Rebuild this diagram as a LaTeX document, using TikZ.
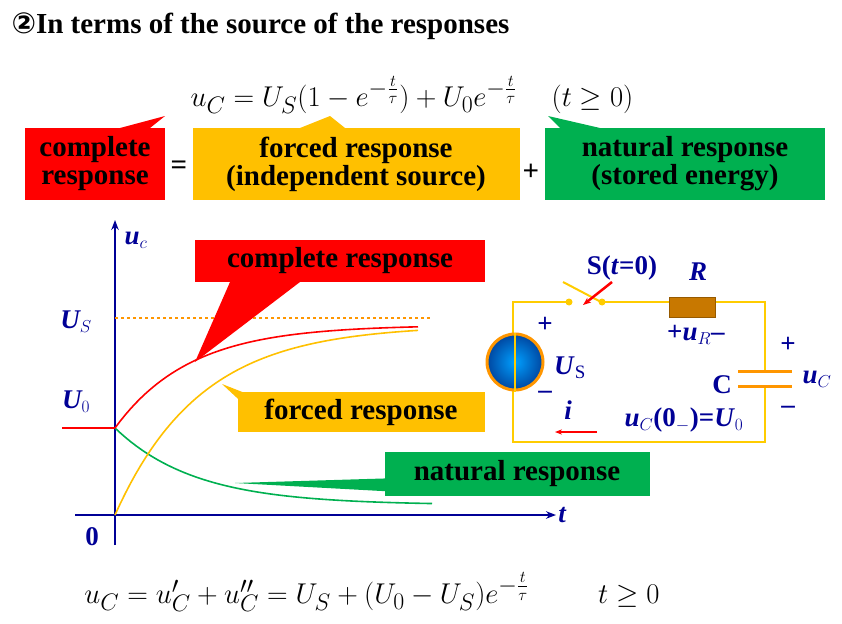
\documentclass[tikz,border=0pt]{standalone}
\usepackage{fontspec}
\setmainfont{Liberation Serif}
\newfontfamily\symfont{DejaVu Sans}
\usetikzlibrary{positioning,arrows.meta}
\definecolor{cRed}{RGB}{255,0,0}
\definecolor{cYel}{RGB}{255,192,0}
\definecolor{cGrn}{RGB}{0,176,80}
\definecolor{cBlue}{RGB}{0,0,150}
\definecolor{cWire}{RGB}{255,204,0}
\definecolor{cOra}{RGB}{255,150,0}
\tikzset{
  lbl/.style={font=\fontsize{29}{28}\selectfont\bfseries, align=center, inner sep=0pt},
  ckt/.style={font=\fontsize{27}{27}\selectfont\bfseries, text=cBlue, inner sep=0pt},
  ckti/.style={ckt, font=\fontsize{27}{27}\selectfont\bfseries\itshape},
  frm/.style={font=\fontsize{30}{30}\selectfont, inner sep=0pt, scale=1.15},
  wire/.style={cWire, line width=2pt},
  axis/.style={cBlue, line width=1.6pt, -{Stealth[length=10pt]}}
}
\begin{document}
\begin{tikzpicture}[x=1pt,y=-1pt]
        \useasboundingbox (0,0) rectangle (842,623);

        % title and formulas
        \node[anchor=west, font=\fontsize{29}{29}\selectfont\bfseries] (title) at (8,26) {{\symfont\bfseries ②}In terms of the source of the responses};
        \node[frm] (ftop) at (412,95) {$u_C=U_S(1-e^{-\frac{t}{\tau}})+U_0e^{-\frac{t}{\tau}}\quad(t\geq 0)$};
        \node[frm] (fbot) at (372,592) {$u_C=u_C'+u_C''=U_S+(U_0-U_S)e^{-\frac{t}{\tau}}\qquad t\geq 0$};

        % top boxes with callouts
        \fill[cRed] (120,128) -- (165,116) -- (150,128) -- cycle;
        \fill[cYel] (300,128) -- (330,116) -- (345,128) -- cycle;
        \fill[cGrn] (560,128) -- (548,116) -- (600,128) -- cycle;
        \node[lbl, fill=cRed, minimum width=140, minimum height=72] (cmp) at (95,164) {complete\\response};
        \node[lbl, fill=cYel, minimum width=327, minimum height=72] (frc) at (356,164) {forced response\\(independent source)};
        \node[lbl, fill=cGrn, minimum width=280, minimum height=72] (nat) at (685,164) {natural response\\(stored energy)};
        \node[lbl] (eq) at (179,168) {=};
        \node[lbl] (plus) at (531,172) {+};

        % axes
        \draw[axis] (115,545) -- (115,220);
        \draw[axis] (75,515) -- (556,515);
        \node[ckti] (uc) at (136,240) {u$_c$};
        \node[ckti] (tl) at (562,515) {t};
        \node[ckt] (zero) at (92,537) {0};
        \node[ckti] (us) at (76,322) {U$_S$};
        \node[ckti] (u0) at (76,402) {U$_0$};

        % curves
        \draw[cOra, dashed, line width=1.5pt] (115,318) -- (432,318);
        \draw[cGrn, line width=1.6pt] (62,428) -- (115,428) plot[domain=115:432, samples=60] (\x,{505-77*exp(-(\x-115)/80)});
        \draw[cYel, line width=1.6pt] plot[domain=115:418, samples=60] (\x,{325+190*exp(-(\x-115)/85)});
        \draw[cRed, line width=1.6pt] (62,428) -- (115,428) plot[domain=115:418, samples=60] (\x,{325+103*exp(-(\x-115)/75)});

        % graph callouts
        \fill[cRed] (230,282) -- (195,362) -- (300,282) -- cycle;
        \node[lbl, fill=cRed, minimum width=290, minimum height=42] (cmpg) at (340,261) {complete response};
        \fill[cYel] (250,395) -- (222,384) -- (250,410) -- cycle;
        \node[lbl, fill=cYel, minimum width=247, minimum height=40] (frcg) at (361,412) {forced response};
        \fill[cGrn] (400,478) -- (235,483) -- (400,492) -- cycle;
        \node[lbl, fill=cGrn, minimum width=265, minimum height=44] (natg) at (517,474) {natural response};

        % circuit
        \coordinate (tl0) at (513,302);
        \coordinate (tr0) at (765,302);
        \coordinate (br0) at (765,442);
        \coordinate (bl0) at (513,442);
        \coordinate (sw1) at (569,302);
        \coordinate (sw2) at (602,302);
        \coordinate (cp1) at (765,371);
        \coordinate (cp2) at (765,386);
        \draw[wire] (sw1) -- (tl0) -- (bl0) -- (br0) -- (cp2);
        \draw[wire] (cp1) -- (tr0) -- (sw2);
        \fill[cWire] (sw1) circle (3.5) (sw2) circle (3.5);
        \draw[wire] (563,282) -- (603,303);
        \draw[cRed, line width=2.5pt, -{Stealth[length=8pt]}] (612,282) -- (583,305);
        \node[ckt] (swl) at (622,268) {S(\textit{t}=0)};
        \node[draw={rgb,255:red,150;green,90;blue,0}, line width=1pt, fill={rgb,255:red,200;green,120;blue,0}, minimum width=46, minimum height=20, inner sep=0] (res) at (692,307) {};
        \node[ckti] (rl) at (698,272) {R};
        \node[ckt] (url) at (696,335) {+\textit{u}$_R$\textbf{--}};
        \draw[cOra, line width=3pt] (738,371) -- (792,371) (738,386) -- (792,386);
        \node[ckt] (cl) at (722,385) {C};
        \node[ckt] (cpp) at (788,345) {+};
        \node[ckti] (ucl) at (817,379) {u$_C$};
        \node[ckt] (cpm) at (788,410) {--};
        \node[circle, draw=cOra, line width=3pt, inner color={rgb,255:red,0;green,160;blue,255}, outer color={rgb,255:red,0;green,70;blue,160}, minimum size=56] (src) at (515,362) {};
        \draw[wire] (src.north) -- (src.south);
        \node[ckt] (srcp) at (545,325) {+};
        \node[ckt] (usl) at (570,368) {\textit{U}$_\mathrm{S}$};
        \node[ckt] (srcm) at (545,395) {--};
        \node[ckti] (il) at (568,410) {i};
        \draw[cRed, line width=1.5pt, -{Stealth[length=7pt]}] (597,432) -- (555,432);
        \node[ckt] (ic) at (684,420) {\textit{u}$_C$(0$_-$)=\textit{U}$_0$};
\end{tikzpicture}
\end{document}
